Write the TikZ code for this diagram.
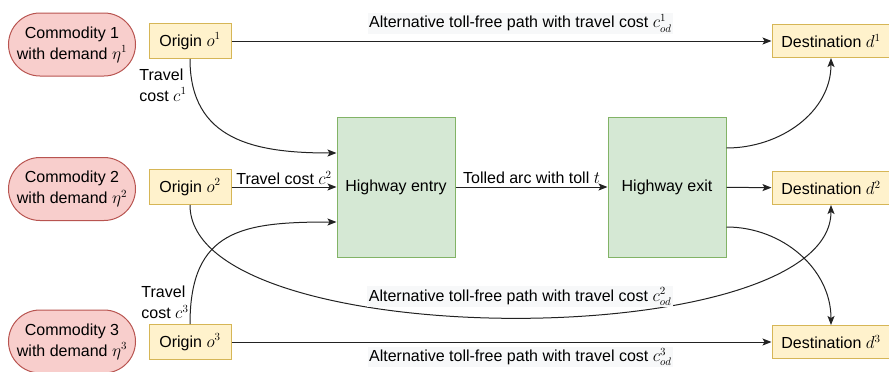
\documentclass[tikz,border=0pt]{standalone}
\usepackage[no-math]{fontspec}
\setmainfont{Liberation Sans}
\usetikzlibrary{arrows.meta,shapes.misc}
\definecolor{redfill}{HTML}{F8CECC}
\definecolor{redline}{HTML}{B85450}
\definecolor{yellowfill}{HTML}{FFF2CC}
\definecolor{yellowline}{HTML}{D6B656}
\definecolor{greenfill}{HTML}{D5E8D4}
\definecolor{greenline}{HTML}{82B366}
\definecolor{labelgray}{HTML}{F7F8F9}
\definecolor{arcline}{HTML}{222222}

\begin{document}
\begin{tikzpicture}[x=1pt,y=-1pt,
    >={Stealth[length=9pt,width=7pt,inset=2pt]},
    every node/.style={font=\fontsize{16}{21}\selectfont},
    commodity/.style={rounded rectangle,draw=redline,fill=redfill,line width=1pt,minimum width=129pt,minimum height=63pt,align=center,inner sep=1pt},
    origin/.style={draw=yellowline,fill=yellowfill,line width=1pt,minimum width=82pt,minimum height=35pt,inner sep=1pt},
    dest/.style={origin,minimum width=118pt,minimum height=33pt},
    highway/.style={draw=greenline,fill=greenfill,line width=1pt,minimum width=118pt,minimum height=140pt},
    costlabel/.style={inner sep=1pt,align=left},
    altlabel/.style={fill=labelgray,inner sep=1.5pt},
    arc/.style={->,draw=arcline,line width=1pt}]
    \useasboundingbox (0,0) rectangle (889,372);
    \clip (0,0) rectangle (889,372);
    % commodities
    \node[commodity] (com1) at (72,44.5) {Commodity 1\\with demand $\eta^1$};
    \node[commodity] (com2) at (72,189) {Commodity 2\\with demand $\eta^2$};
    \node[commodity] (com3) at (72,341.5) {Commodity 3\\with demand $\eta^3$};
    % origins and destinations
    \node[origin] (o1) at (190,41) {Origin $o^1$};
    \node[origin] (o2) at (190,187) {Origin $o^2$};
    \node[origin] (o3) at (190,342) {Origin $o^3$};
    \node[dest] (d1) at (831,41) {Destination $d^1$};
    \node[dest] (d2) at (831,188) {Destination $d^2$};
    \node[dest] (d3) at (831,342) {Destination $d^3$};
    % highway
    \node[highway] (entry) at (396,187) {Highway entry};
    \node[highway] (exit) at (667,187) {Highway exit};
    % toll-free paths
    \draw[arc] (o1) -- node[altlabel,pos=0.535,above=7pt] {Alternative toll-free path with travel cost $c^1_{od}$} (d1);
    \draw[arc] (o3) -- node[altlabel,pos=0.535,below=4pt] {Alternative toll-free path with travel cost $c^3_{od}$} (d3);
    \draw[arc] (o2.south) .. controls +(0,150) and +(0,150) .. node[altlabel,pos=0.51,above=10pt] {Alternative toll-free path with travel cost $c^2_{od}$} (d2.south);
    % to the highway
    \draw[arc] (o1.south) to[out=-90,in=180,looseness=1.2] node[costlabel,pos=0,anchor=north east,xshift=-2pt,yshift=-8pt] {Travel\\cost $c^1$} ([yshift=34pt]entry.west);
    \draw[arc] (o2) -- node[costlabel,midway,above=1pt] {Travel cost $c^2$} (entry);
    \draw[arc] (o3.north) to[out=90,in=180,looseness=1.35] node[costlabel,pos=0,anchor=south east,xshift=0pt,yshift=4pt] {Travel\\cost $c^3$} ([yshift=-35pt]entry.west);
    \draw[arc] (entry) -- node[costlabel,midway,above=2pt] {Tolled arc with toll $t$} (exit);
    % from the highway
    \draw[arc] ([yshift=39pt]exit.east) to[out=0,in=-90] (d1.south);
    \draw[arc] (exit) -- (d2);
    \draw[arc] ([yshift=-40pt]exit.east) to[out=0,in=90] (d3.north);
\end{tikzpicture}
\end{document}
